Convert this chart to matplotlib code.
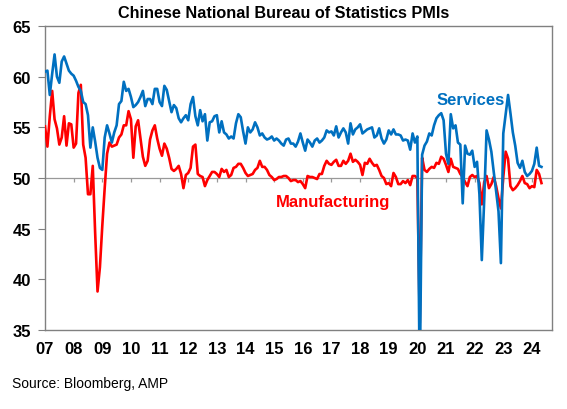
import numpy as np
import matplotlib
matplotlib.use("Agg")
import matplotlib.pyplot as plt

plt.rcParams['font.family'] = ['Liberation Sans', 'DejaVu Sans']

# monthly values, Jan 2007 - May 2024
services = [
    60.5, 60.6, 58.2, 60.3, 62.2, 60.0, 59.4, 61.5, 62.0, 61.3, 60.6, 60.3,
    60.1, 59.6, 59.0, 58.6, 57.5, 57.3, 56.2, 53.0, 55.0, 53.6, 52.0, 51.0,
    50.8, 54.0, 55.2, 54.4, 53.5, 54.5, 55.2, 57.3, 57.6, 59.5, 58.6, 58.8,
    58.0, 57.0, 57.2, 57.5, 58.0, 58.6, 57.1, 57.8, 57.8, 57.3, 58.8, 58.8,
    57.5, 57.1, 59.1, 58.7, 57.6, 56.5, 57.2, 56.9, 55.9, 55.5, 55.9, 56.2,
    55.7, 57.3, 58.0, 56.1, 55.2, 56.7, 55.6, 56.3, 53.7, 55.5, 55.6, 56.1,
    56.2, 54.5, 55.6, 54.5, 54.3, 53.9, 54.1, 53.9, 55.4, 56.3, 56.0, 54.6,
    53.4, 55.0, 54.5, 54.8, 55.5, 55.0, 54.2, 54.4, 54.0, 53.8, 53.9, 54.1,
    53.7, 53.9, 53.7, 53.4, 53.2, 53.8, 53.9, 53.4, 53.4, 53.1, 53.6, 54.4,
    53.5, 52.7, 53.8, 53.5, 53.1, 53.7, 53.9, 53.5, 53.7, 54.0, 54.7, 54.5,
    54.6, 54.2, 55.1, 54.0, 54.5, 54.9, 54.5, 53.4, 55.4, 54.3, 54.8, 55.0,
    55.3, 54.4, 54.6, 54.8, 54.9, 55.0, 54.0, 54.2, 54.9, 53.9, 53.4, 53.8,
    54.7, 54.3, 54.8, 54.3, 54.3, 54.2, 53.7, 53.8, 53.7, 52.8, 54.4, 53.5,
    54.1, 29.6, 52.3, 53.2, 53.6, 54.4, 54.2, 55.2, 55.9, 56.2, 56.4, 55.7,
    52.4, 51.4, 56.3, 54.9, 55.2, 53.5, 53.3, 47.5, 53.2, 52.4, 52.3, 52.7,
    51.1, 51.6, 48.4, 41.9, 47.8, 54.7, 53.8, 52.6, 50.6, 48.7, 46.7, 41.6,
    54.4, 56.3, 58.2, 56.4, 54.5, 53.2, 51.5, 51.0, 51.7, 50.6, 50.2, 50.4,
    50.7, 51.4, 53.0, 51.2, 51.1,
]

manufacturing = [
    55.1, 53.1, 56.1, 58.6, 55.8, 54.9, 53.3, 54.0, 56.1, 53.2, 55.4, 55.3,
    53.0, 53.4, 58.4, 59.2, 53.3, 52.0, 48.4, 48.4, 51.2, 44.6, 38.8, 41.2,
    45.3, 49.0, 52.4, 53.5, 53.1, 53.2, 53.3, 54.0, 54.3, 55.2, 55.2, 56.6,
    55.8, 52.0, 55.1, 55.7, 53.9, 52.1, 51.2, 51.7, 53.8, 54.7, 55.2, 53.9,
    52.9, 52.2, 53.4, 52.9, 52.0, 50.9, 50.7, 50.9, 51.2, 50.4, 49.0, 50.3,
    50.5, 51.0, 53.1, 53.3, 50.4, 50.2, 50.1, 49.2, 49.8, 50.2, 50.6, 50.6,
    50.4, 50.1, 50.9, 50.6, 50.8, 50.1, 50.3, 51.0, 51.1, 51.4, 51.4, 51.0,
    50.5, 50.2, 50.3, 50.4, 50.8, 51.0, 51.7, 51.1, 51.1, 50.8, 50.3, 50.1,
    49.8, 49.9, 50.1, 50.1, 50.2, 50.2, 50.0, 49.7, 49.8, 49.8, 49.6, 49.7,
    49.4, 49.0, 50.2, 50.1, 50.1, 50.0, 49.9, 50.4, 50.4, 51.2, 51.7, 51.4,
    51.3, 51.6, 51.8, 51.2, 51.2, 51.7, 51.4, 51.7, 52.4, 51.6, 51.8, 51.6,
    51.3, 50.3, 51.5, 51.4, 51.9, 51.5, 51.2, 51.3, 50.8, 50.2, 50.0, 49.4,
    49.5, 49.2, 50.5, 50.1, 49.4, 49.4, 49.7, 49.5, 49.8, 49.3, 50.2, 50.2,
    50.0, 35.7, 52.0, 50.8, 50.6, 50.9, 51.1, 51.0, 51.5, 51.4, 52.1, 51.9,
    51.3, 50.6, 51.9, 51.1, 51.0, 50.9, 50.4, 50.1, 49.6, 49.2, 50.1, 50.3,
    50.1, 50.2, 49.5, 47.4, 49.6, 50.2, 49.0, 49.4, 50.1, 49.2, 48.0, 47.0,
    50.1, 52.6, 51.9, 49.2, 48.8, 49.0, 49.3, 49.7, 50.2, 49.5, 49.4, 49.0,
    49.2, 49.1, 50.8, 50.4, 49.5,
]

years = list(range(2007, 2025))
year_labels = [str(y)[2:] for y in years]

t = 2007 + np.arange(len(services)) / 12.0

fig = plt.figure(figsize=(5.67, 4.10), dpi=100)
ax = fig.add_axes([0.0794, 0.1927, 0.8941, 0.7413])

ax.axhline(50, color='#999999', lw=0.9, zorder=1)
ax.vlines(years[1:], 49.6, 50, color='#999999', lw=0.9, zorder=1)

ax.plot(t, manufacturing, color='#ff0000', lw=1.9, zorder=3)
ax.plot(t, services, color='#0070c0', lw=1.9, zorder=4)

ax.set_xlim(2007, 2024.70)
ax.set_ylim(35, 65)
ax.set_yticks(range(35, 66, 5))
ax.set_xticks(years)
ax.set_xticklabels(year_labels)

for s in ax.spines.values():
    s.set_color('#808080')
    s.set_linewidth(1.0)

ax.tick_params(axis='x', length=0, pad=8, labelsize=12)
ax.tick_params(axis='y', length=5, pad=5, labelsize=12, color='#808080')
for lab in ax.get_xticklabels() + ax.get_yticklabels():
    lab.set_fontweight('bold')

ax.text(2021.87, 57.8, 'Services', color='#0070c0', fontsize=12,
        fontweight='bold', ha='center', va='center')
ax.text(2017.05, 47.65, 'Manufacturing', color='#ff0000', fontsize=12,
        fontweight='bold', ha='center', va='center')

fig.text(0.5, 0.968, 'Chinese National Bureau of Statistics PMIs',
         fontsize=11.7, fontweight='bold', ha='center', va='center')
fig.text(0.021, 0.063, 'Source: Bloomberg, AMP', fontsize=10,
         ha='left', va='center')

fig.savefig('out.png', dpi=100)
